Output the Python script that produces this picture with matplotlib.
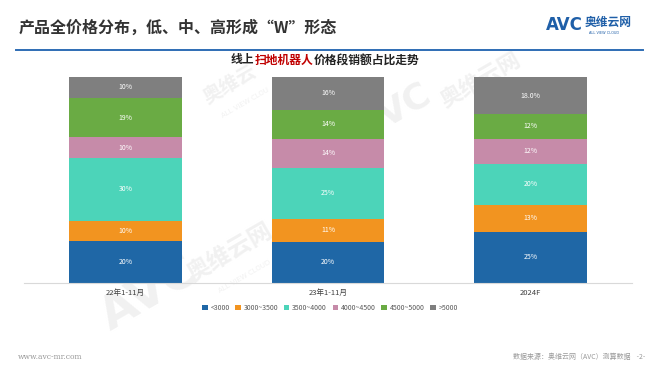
import matplotlib.pyplot as plt
import numpy as np

plt.rcParams["font.family"] = ["Noto Sans CJK SC", "DejaVu Sans"]

periods = ["22年1-11月", "23年1-11月", "2024F"]
segments = ["<3000", "3000~3500", "3500~4000", "4000~4500", "4500~5000", ">5000"]
colors = ["#1f67a6", "#f29420", "#4cd4b9", "#c68ba9", "#6aab44", "#7f7f7f"]

share_22 = [20, 10, 30, 10, 19, 10]
share_23 = [20, 11, 25, 14, 14, 16]
share_24 = [25, 13, 20, 12, 12, 18]
labels_22 = ["20%", "10%", "30%", "10%", "19%", "10%"]
labels_23 = ["20%", "11%", "25%", "14%", "14%", "16%"]
labels_24 = ["25%", "13%", "20%", "12%", "12%", "18.0%"]

shares = np.array([share_22, share_23, share_24], dtype=float)
shares = shares / shares.sum(axis=1, keepdims=True) * 100
labels = [labels_22, labels_23, labels_24]

fig = plt.figure(figsize=(6.6, 3.72), dpi=100, facecolor="white")

# header
fig.text(19 / 660, 1 - 28 / 372, "产品全价格分布，低、中、高形成“W”形态", fontsize=11.5,
         fontweight="bold", color="#333333", va="center", ha="left")
fig.add_artist(plt.Line2D([16 / 660, 643 / 660], [1 - 50 / 372] * 2, color="#2e6db4", lw=1.4))
fig.text(546 / 660, 1 - 25 / 372, "AVC", fontsize=12, fontweight="bold", color="#1f5fa8",
         va="center", ha="left", family="DejaVu Sans")
fig.text(585 / 660, 1 - 22 / 372, "奥维云网", fontsize=8.5, fontweight="bold", color="#1f5fa8",
         va="center", ha="left")
fig.text(589 / 660, 1 - 33 / 372, "ALL VIEW CLOUD", fontsize=2.5, color="#1f5fa8",
         va="center", ha="left", family="DejaVu Sans")

# faint watermarks, kept under the bars
wm = dict(color="#f1f1f1", rotation=30, ha="center", va="center", zorder=-5)
fig.text(150 / 660, 1 - 295 / 372, "AVC", fontsize=34, fontweight="bold", family="DejaVu Sans", **wm)
fig.text(230 / 660, 1 - 252 / 372, "奥维云网", fontsize=17, fontweight="bold", **wm)
fig.text(245 / 660, 1 - 276 / 372, "ALL VIEW CLOUD", fontsize=5, family="DejaVu Sans", **wm)
fig.text(405 / 660, 1 - 105 / 372, "VC", fontsize=26, fontweight="bold", family="DejaVu Sans", **wm)
fig.text(480 / 660, 1 - 80 / 372, "奥维云网", fontsize=16, fontweight="bold", **wm)
fig.text(230 / 660, 1 - 85 / 372, "奥维云", fontsize=14, fontweight="bold", **wm)
fig.text(245 / 660, 1 - 103 / 372, "ALL VIEW CLOU", fontsize=5, family="DejaVu Sans", **wm)

ax = fig.add_axes([24 / 660, 1 - 283 / 372, 608 / 660, 206 / 372], zorder=2)
ax.set_facecolor("none")
x = np.arange(len(periods))
bottom = np.zeros(len(periods))
for i, seg in enumerate(segments):
    ax.bar(x, shares[:, i], 0.556, bottom=bottom, color=colors[i], label=seg, zorder=2)
    for j in range(len(periods)):
        ax.text(x[j], bottom[j] + shares[j, i] / 2, labels[j][i], ha="center", va="center",
                fontsize=5, color="white", zorder=3)
    bottom += shares[:, i]

ax.set_xlim(-0.5, 2.5)
ax.set_ylim(0, 100)
ax.set_yticks([])
ax.set_xticks(x)
ax.set_xticklabels(periods, fontsize=5.5, color="#404040")
ax.tick_params(axis="x", length=0, pad=4)
for side in ["top", "right", "left"]:
    ax.spines[side].set_visible(False)
ax.spines["bottom"].set_color("#d9d9d9")
ax.spines["bottom"].set_linewidth(0.8)

# chart title drawn piece by piece so the red part keeps its colour
t_parts = [("线上", "#222222"), ("扫地机器人", "#c00000"), ("价格段销额占比走势", "#222222")]
x0 = 231 / 660
renderer = fig.canvas.get_renderer()
for txt, c in t_parts:
    t = fig.text(x0, 1 - 60 / 372, txt, fontsize=8.5, fontweight="bold", color=c,
                 va="center", ha="left")
    bb = t.get_window_extent(renderer=renderer)
    x0 += bb.width / fig.bbox.width

leg = fig.legend(loc="center", bbox_to_anchor=(330 / 660, 1 - 308 / 372), ncol=6, frameon=False,
                 fontsize=5, handlelength=0.8, handleheight=0.8, handletextpad=0.4,
                 columnspacing=0.8, labelcolor="#595959")

# footer
fig.text(18 / 660, 1 - 357 / 372, "www.avc-mr.com", fontsize=5.5, color="#999999",
         family="DejaVu Serif", va="center", ha="left")
fig.text(645 / 660, 1 - 357 / 372, "数据来源：奥维云网（AVC）测算数据    -2-", fontsize=5,
         color="#999999", va="center", ha="right")

fig.savefig("out.png", dpi=100, facecolor="white")
